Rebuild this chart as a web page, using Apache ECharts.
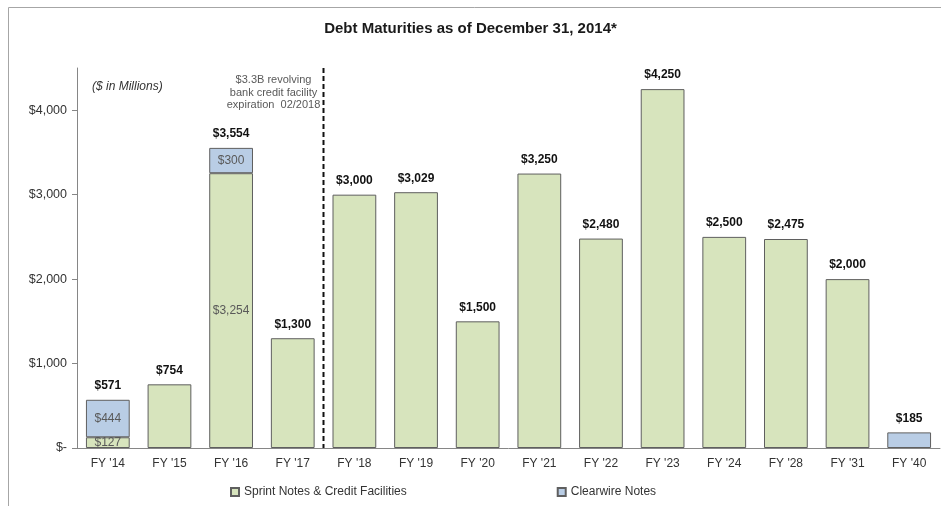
<!DOCTYPE html>
<html>
<head>
<meta charset="utf-8">
<script src="https://cdn.jsdelivr.net/npm/echarts@6/dist/echarts.min.js"></script>
<style>
  html, body { margin: 0; padding: 0; background: #fff; }
  #chart { width: 941px; height: 506px; }
</style>
</head>
<body>
<div id="chart"></div>
<script>
// Fiscal years with debt maturing
const categories = ["FY '14", "FY '15", "FY '16", "FY '17", "FY '18", "FY '19", "FY '20",
                    "FY '21", "FY '22", "FY '23", "FY '24", "FY '28", "FY '31", "FY '40"];
// Sprint notes & credit facilities ($M)
const sprintNotes = [127, 754, 3254, 1300, 3000, 3029, 1500, 3250, 2480, 4250, 2500, 2475, 2000, null];
// Clearwire notes ($M)
const clearwireNotes = [444, null, 300, null, null, null, null, null, null, null, null, null, null, 185];
// Value-axis ticks
const yTicks = [0, 1000, 2000, 3000, 4000];

const totals = categories.map((_, i) => (sprintNotes[i] || 0) + (clearwireNotes[i] || 0));
const money = v => v === 0 ? '$-' : '$' + Number(v).toLocaleString('en-US');

const chart = echarts.init(document.getElementById('chart'));
const FONT = 'Liberation Sans, Arial, sans-serif';
const innerLabel = {
  show: true, position: 'inside', color: '#595959', fontFamily: FONT, fontSize: 12
};

chart.setOption({
  animation: false,
  textStyle: { fontFamily: FONT },
  title: {
    text: 'Debt Maturities as of December 31, 2014*',
    left: 'center', top: 16,
    textStyle: { fontSize: 15, fontWeight: 'bold', color: '#1a1a1a', fontFamily: FONT }
  },
  legend: {
    bottom: 3, left: 225, itemGap: 150, itemWidth: 8, itemHeight: 8,
    icon: 'rect',
    textStyle: { fontSize: 12, color: '#333', fontFamily: FONT },
    data: ['Sprint Notes & Credit Facilities', 'Clearwire Notes']
  },
  grid: { left: 77, right: 1, top: 68, bottom: 58 },
  xAxis: {
    type: 'category', data: categories,
    axisLine: { lineStyle: { color: '#868686' } },
    axisTick: { show: false },
    axisLabel: { color: '#333', fontSize: 12, margin: 10 }
  },
  yAxis: {
    type: 'value', min: 0, max: 4500,
    splitLine: { show: false },
    axisLine: { show: true, lineStyle: { color: '#868686' } },
    axisTick: { show: true, length: 5, customValues: yTicks, lineStyle: { color: '#868686' } },
    axisLabel: { color: '#333', fontSize: 12.5, margin: 10, customValues: yTicks, formatter: money }
  },
  series: [
    {
      name: 'Sprint Notes & Credit Facilities', type: 'bar', stack: 'debt',
      barCategoryGap: '29%',
      data: sprintNotes,
      itemStyle: { color: '#d7e4bd', borderColor: '#5f5f5f', borderWidth: 1 },
      label: Object.assign({}, innerLabel, {
        formatter: p => clearwireNotes[p.dataIndex] ? money(p.value) : ''
      })
    },
    {
      name: 'Clearwire Notes', type: 'bar', stack: 'debt',
      barCategoryGap: '29%',
      data: clearwireNotes,
      itemStyle: { color: '#b9cde5', borderColor: '#5f5f5f', borderWidth: 1 },
      label: Object.assign({}, innerLabel, {
        formatter: p => sprintNotes[p.dataIndex] ? money(p.value) : ''
      })
    },
    {
      // invisible bars carrying the bold totals above each column
      name: 'Total', type: 'bar', barGap: '-100%', barCategoryGap: '29%',
      data: totals, silent: true, z: 1,
      itemStyle: { color: 'rgba(0,0,0,0)' },
      label: {
        show: true, position: 'top', distance: 8,
        fontSize: 12, fontWeight: 'bold', color: '#111', fontFamily: FONT,
        formatter: p => money(p.value)
      }
    }
  ]
});

// dashed divider between FY '17 and FY '18, plus frame and notes
const x17 = chart.convertToPixel({ xAxisIndex: 0 }, 3);
const x18 = chart.convertToPixel({ xAxisIndex: 0 }, 4);
const xDiv = Math.round((x17 + x18) / 2) - 0.5;
const yTop = chart.convertToPixel({ yAxisIndex: 0 }, 4500);
const yBase = chart.convertToPixel({ yAxisIndex: 0 }, 0);

chart.setOption({
  graphic: [
    { type: 'line', shape: { x1: 8.5, y1: 7.5, x2: 941, y2: 7.5 }, style: { stroke: '#a6a6a6', lineWidth: 1 } },
    { type: 'line', shape: { x1: 8.5, y1: 7.5, x2: 8.5, y2: 506 }, style: { stroke: '#a6a6a6', lineWidth: 1 } },
    { type: 'line', z: 10, shape: { x1: xDiv, y1: yTop, x2: xDiv, y2: yBase },
      style: { stroke: '#111', lineWidth: 2, lineDash: [5, 3] } },
    { type: 'text', left: 92, top: 81,
      style: { text: '($ in Millions)', font: 'italic 12px ' + FONT, fill: '#333' } },
    { type: 'text', x: xDiv - 50, y: 74,
      style: { text: '$3.3B revolving\nbank credit facility\nexpiration  02/2018',
               font: '11px ' + FONT, fill: '#595959', align: 'center', lineHeight: 12.5 } }
  ]
});
</script>
</body>
</html>
